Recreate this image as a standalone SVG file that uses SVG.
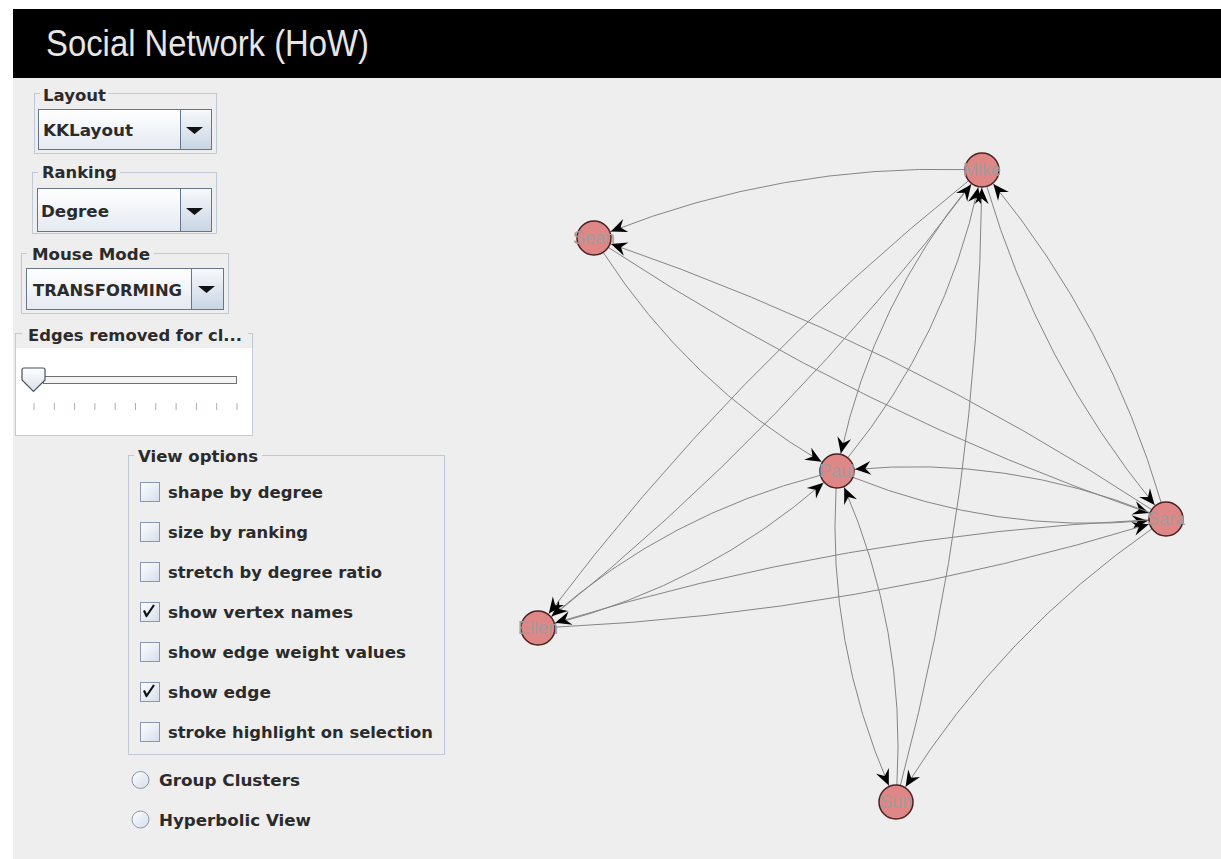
<svg xmlns="http://www.w3.org/2000/svg" width="1221" height="859" viewBox="0 0 1221 859">
<defs>
<style>
.lbl{font-family:"DejaVu Sans","Liberation Sans",sans-serif;font-weight:bold;font-size:16px;fill:#2b2b2b}
.box{fill:none;stroke:#c0c9d6;stroke-width:1}
.tbg{fill:#eeeeee}
.combo{fill:url(#cg);stroke:#66758a;stroke-width:1}
.btn{fill:url(#bg);stroke:#66758a;stroke-width:1}
.chk{fill:url(#kg);stroke:#8797ad;stroke-width:1}
.mark{fill:none;stroke:#111;stroke-width:2.2;stroke-linejoin:round}
.radio{fill:url(#kg);stroke:#8797ad;stroke-width:1}
.tick{stroke:#b9a9a9;stroke-width:1}
.edge{fill:none;stroke:#858585;stroke-width:1;marker-end:url(#arr)}
.node{fill:#df8787;stroke:#4a2222;stroke-width:1.5}
.nlab{font-family:"Liberation Sans",Arial,sans-serif;font-size:18px;fill:#a39b9b;text-anchor:middle}
</style>
<linearGradient id="cg" x1="0" y1="0" x2="0" y2="1"><stop offset="0" stop-color="#ffffff"/><stop offset="1" stop-color="#e4eaf2"/></linearGradient>
<linearGradient id="bg" x1="0" y1="0" x2="0" y2="1"><stop offset="0" stop-color="#f7f9fc"/><stop offset="1" stop-color="#c9d5e4"/></linearGradient>
<linearGradient id="kg" x1="0" y1="0" x2="1" y2="1"><stop offset="0" stop-color="#ffffff"/><stop offset="1" stop-color="#d3ddea"/></linearGradient>
<linearGradient id="tg" x1="0" y1="0" x2="0" y2="1"><stop offset="0" stop-color="#ffffff"/><stop offset="1" stop-color="#d8e0ea"/></linearGradient>
<marker id="arr" markerUnits="userSpaceOnUse" viewBox="-17 -8 19 16" markerWidth="19" markerHeight="16" refX="1.5" refY="0" orient="auto">
<path d="M0,0 L-16,-7 L-10.5,0 L-16,7 Z" fill="#000"/>
</marker>
</defs>

<rect x="0" y="0" width="1221" height="859" fill="#ffffff"/>
<rect x="13" y="78" width="1208" height="781" fill="#eeeeee"/>

<g id="titlebar">
<rect x="13" y="9" width="1208" height="69" fill="#000"/>
<text x="46" y="56" font-family="Liberation Sans, Arial, sans-serif" font-size="36" fill="#e6e6e6" textLength="323" lengthAdjust="spacingAndGlyphs">Social Network (HoW)</text>
</g>

<g id="layout-control">
<rect class="box" x="34.5" y="93.5" width="182" height="60"/>
<rect class="tbg" x="40" y="86" width="68" height="16"/>
<text class="lbl" x="43" y="101" textLength="63" lengthAdjust="spacingAndGlyphs">Layout</text>
<rect class="combo" x="38.5" y="109.5" width="173" height="40"/>
<rect class="btn" x="180.5" y="109.5" width="31" height="40"/>
<polygon points="186,127 203,127 194.5,134" fill="#111"/>
<text class="lbl" x="43" y="136" textLength="90" lengthAdjust="spacingAndGlyphs">KKLayout</text>
</g>

<g id="ranking-control">
<rect class="box" x="32.5" y="172.5" width="184" height="61"/>
<rect class="tbg" x="38" y="164" width="82" height="17"/>
<text class="lbl" x="42" y="178" textLength="75" lengthAdjust="spacingAndGlyphs">Ranking</text>
<rect class="combo" x="37.5" y="188.5" width="174" height="43"/>
<rect class="btn" x="180.5" y="188.5" width="31" height="43"/>
<polygon points="186,208 203,208 194.5,215" fill="#111"/>
<text class="lbl" x="41" y="217" textLength="68" lengthAdjust="spacingAndGlyphs">Degree</text>
</g>

<g id="mousemode-control">
<rect class="box" x="21.5" y="253.5" width="207" height="60"/>
<rect class="tbg" x="27" y="245" width="127" height="17"/>
<text class="lbl" x="32" y="260" textLength="118" lengthAdjust="spacingAndGlyphs">Mouse Mode</text>
<rect class="combo" x="26.5" y="268.5" width="197" height="41"/>
<rect class="btn" x="191.5" y="268.5" width="32" height="41"/>
<polygon points="198,286 215,286 206.5,293" fill="#111"/>
<text class="lbl" x="33" y="296" textLength="149" lengthAdjust="spacingAndGlyphs">TRANSFORMING</text>
</g>

<g id="edges-removed-slider">
<rect x="16" y="348" width="236" height="87" fill="#ffffff"/>
<rect class="box" x="15.5" y="333.5" width="237" height="102"/>
<rect class="tbg" x="22" y="325" width="226" height="18"/>
<text class="lbl" x="28" y="341" textLength="214" lengthAdjust="spacingAndGlyphs">Edges removed for cl...</text>
<rect x="43.5" y="376.5" width="193" height="7" fill="#f4f4f4" stroke="#6f6f6f"/>
<path d="M24,368 L43,368 Q45,368 45,370 L45,380 L33.5,391.5 L22,380 L22,370 Q22,368 24,368 Z" fill="url(#tg)" stroke="#46515d" stroke-width="1.2"/>
<g class="tick">
<line x1="34" y1="403" x2="34" y2="410"/><line x1="54.3" y1="403" x2="54.3" y2="410"/><line x1="74.6" y1="403" x2="74.6" y2="410"/><line x1="94.9" y1="403" x2="94.9" y2="410"/><line x1="115.2" y1="403" x2="115.2" y2="410"/><line x1="135.5" y1="403" x2="135.5" y2="410"/><line x1="155.8" y1="403" x2="155.8" y2="410"/><line x1="176.1" y1="403" x2="176.1" y2="410"/><line x1="196.4" y1="403" x2="196.4" y2="410"/><line x1="216.7" y1="403" x2="216.7" y2="410"/><line x1="237" y1="403" x2="237" y2="410"/>
</g>
</g>

<g id="view-options">
<rect class="box" x="128.5" y="455.5" width="316" height="299"/>
<rect class="tbg" x="134" y="446" width="128" height="18"/>
<text class="lbl" x="138" y="462" textLength="120" lengthAdjust="spacingAndGlyphs">View options</text>
<rect class="chk" x="140.5" y="482.5" width="19" height="19"/>
<text class="lbl" x="168" y="498" textLength="155" lengthAdjust="spacingAndGlyphs">shape by degree</text>
<rect class="chk" x="140.5" y="522.5" width="19" height="19"/>
<text class="lbl" x="168" y="538" textLength="140" lengthAdjust="spacingAndGlyphs">size by ranking</text>
<rect class="chk" x="140.5" y="562.5" width="19" height="19"/>
<text class="lbl" x="168" y="578" textLength="214" lengthAdjust="spacingAndGlyphs">stretch by degree ratio</text>
<rect class="chk" x="140.5" y="602.5" width="19" height="19"/>
<path class="mark" d="M144,610.5 L146.5,616 L154,605"/>
<text class="lbl" x="168" y="618" textLength="185" lengthAdjust="spacingAndGlyphs">show vertex names</text>
<rect class="chk" x="140.5" y="642.5" width="19" height="19"/>
<text class="lbl" x="168" y="658" textLength="238" lengthAdjust="spacingAndGlyphs">show edge weight values</text>
<rect class="chk" x="140.5" y="682.5" width="19" height="19"/>
<path class="mark" d="M144,690.5 L146.5,696 L154,685"/>
<text class="lbl" x="168" y="698" textLength="103" lengthAdjust="spacingAndGlyphs">show edge</text>
<rect class="chk" x="140.5" y="722.5" width="19" height="19"/>
<text class="lbl" x="168" y="738" textLength="265" lengthAdjust="spacingAndGlyphs">stroke highlight on selection</text>
</g>

<g id="group-clusters">
<circle class="radio" cx="140.5" cy="780" r="8.5"/>
<text class="lbl" x="159" y="786" textLength="141" lengthAdjust="spacingAndGlyphs">Group Clusters</text>
</g>
<g id="hyperbolic-view">
<circle class="radio" cx="140.5" cy="819.5" r="8.5"/>
<text class="lbl" x="159" y="826" textLength="152" lengthAdjust="spacingAndGlyphs">Hyperbolic View</text>
</g>

<g id="connectors">
<path class="edge" d="M965.5,169.6 Q781.1,164.6 609.4,232.0"/>
<path class="edge" d="M1152.2,509.9 Q897.6,342.6 609.6,243.4"/>
<path class="edge" d="M607.8,247.1 Q862.4,414.4 1150.4,513.6"/>
<path class="edge" d="M602.9,251.9 Q687.8,383.4 822.8,462.6"/>
<path class="edge" d="M971.6,182.8 Q873.5,303.1 840.5,454.9"/>
<path class="edge" d="M847.4,458.2 Q945.5,337.9 978.5,186.1"/>
<path class="edge" d="M986.6,185.8 Q1038.6,363.2 1155.6,506.2"/>
<path class="edge" d="M1161.4,503.2 Q1109.4,325.8 992.4,182.8"/>
<path class="edge" d="M969.1,180.3 Q731.3,371.2 547.9,614.8"/>
<path class="edge" d="M550.9,617.7 Q788.7,426.8 972.1,183.2"/>
<path class="edge" d="M900.2,786.1 Q978.6,491.4 981.8,186.5"/>
<path class="edge" d="M852.3,477.1 Q995.7,534.6 1149.6,520.5"/>
<path class="edge" d="M1150.7,512.9 Q1007.3,455.4 853.4,469.5"/>
<path class="edge" d="M821.0,475.1 Q668.9,514.1 550.4,617.2"/>
<path class="edge" d="M554.0,623.9 Q706.1,584.9 824.6,481.8"/>
<path class="edge" d="M554.5,627.2 Q858.8,612.9 1150.2,523.8"/>
<path class="edge" d="M1149.5,519.8 Q845.2,534.1 553.8,623.2"/>
<path class="edge" d="M836.1,487.5 Q827.1,643.5 889.4,786.9"/>
<path class="edge" d="M896.9,785.5 Q905.9,629.5 843.6,486.1"/>
<path class="edge" d="M1152.5,528.4 Q1002.1,632.9 904.8,788.0"/>
</g>

<g id="node-mike"><circle class="node" cx="982" cy="170" r="17"/><text class="nlab" x="982" y="176">Mike</text></g>
<g id="node-sean"><circle class="node" cx="594" cy="238" r="17"/><text class="nlab" x="594" y="244">Sean</text></g>
<g id="node-paul"><circle class="node" cx="837" cy="471" r="17"/><text class="nlab" x="837" y="477">Paul</text></g>
<g id="node-sara"><circle class="node" cx="1166" cy="519" r="17"/><text class="nlab" x="1166" y="525">Sara</text></g>
<g id="node-ellen"><circle class="node" cx="538" cy="628" r="17"/><text class="nlab" x="538" y="634">Ellen</text></g>
<g id="node-sun"><circle class="node" cx="896" cy="802" r="17"/><text class="nlab" x="896" y="808">Sun</text></g>
</svg>
